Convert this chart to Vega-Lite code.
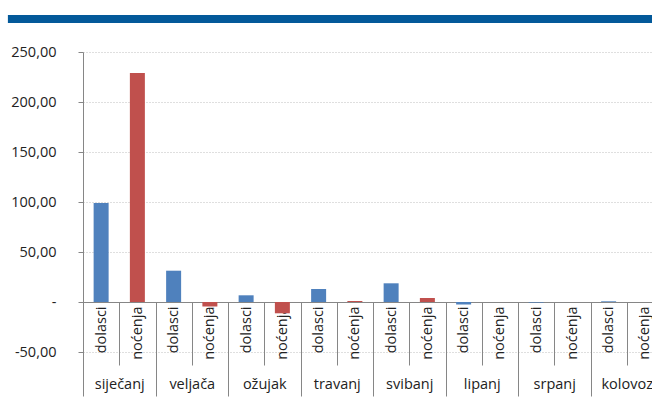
{
  "$schema": "https://vega.github.io/schema/vega-lite/v6.json",
  "autosize": "none",
  "width": 569,
  "height": 300,
  "padding": {"left": 83, "top": 52, "right": 0, "bottom": 65},
  "background": "white",
  "config": {
    "font": "Open Sans",
    "view": {"stroke": null},
    "locale": {"number": {"decimal": ",", "thousands": ".", "grouping": [3], "currency": ["", ""], "minus": "-"}},
    "axis": {"labelFont": "Open Sans", "labelFontSize": 14.5, "labelColor": "#222222"}
  },
  "data": {
    "values": [
      {"key": "siječanj-dolasci", "month": "siječanj", "type": "dolasci", "value": 99},
      {"key": "siječanj-noćenja", "month": "siječanj", "type": "noćenja", "value": 229},
      {"key": "veljača-dolasci", "month": "veljača", "type": "dolasci", "value": 31.3},
      {"key": "veljača-noćenja", "month": "veljača", "type": "noćenja", "value": -4.5},
      {"key": "ožujak-dolasci", "month": "ožujak", "type": "dolasci", "value": 6.7},
      {"key": "ožujak-noćenja", "month": "ožujak", "type": "noćenja", "value": -11.3},
      {"key": "travanj-dolasci", "month": "travanj", "type": "dolasci", "value": 13},
      {"key": "travanj-noćenja", "month": "travanj", "type": "noćenja", "value": 1},
      {"key": "svibanj-dolasci", "month": "svibanj", "type": "dolasci", "value": 18.7},
      {"key": "svibanj-noćenja", "month": "svibanj", "type": "noćenja", "value": 4},
      {"key": "lipanj-dolasci", "month": "lipanj", "type": "dolasci", "value": -2.5},
      {"key": "lipanj-noćenja", "month": "lipanj", "type": "noćenja", "value": 0},
      {"key": "srpanj-dolasci", "month": "srpanj", "type": "dolasci", "value": -0.6},
      {"key": "srpanj-noćenja", "month": "srpanj", "type": "noćenja", "value": 0},
      {"key": "kolovoz-dolasci", "month": "kolovoz", "type": "dolasci", "value": 0.7},
      {"key": "kolovoz-noćenja", "month": "kolovoz", "type": "noćenja", "value": 0}
    ]
  },
  "layer": [
    {
      "mark": {"type": "bar", "size": 15},
      "encoding": {
        "x": {
          "field": "key", "type": "nominal", "sort": null,
          "scale": {"range": [0, 580], "paddingInner": 0, "paddingOuter": 0},
          "axis": {
            "orient": "bottom", "title": null, "offset": -50, "grid": false,
            "domainColor": "#868686", "tickColor": "#868686", "tickSize": 63,
            "tickBand": "extent", "labelAngle": 270, "labelAlign": "right",
            "labelBaseline": "middle", "labelPadding": -59,
            "labelExpr": "split('' + datum.value, '-')[1]"
          }
        },
        "y": {
          "field": "value", "type": "quantitative",
          "scale": {"domain": [-50, 250], "nice": false},
          "axis": {
            "title": null, "values": [-50, 0, 50, 100, 150, 200, 250], "format": ".2f",
            "grid": true, "gridColor": "#bfbfbf", "gridDash": [1, 2],
            "domainColor": "#868686", "tickColor": "#868686", "tickSize": 5,
            "labelPadding": 22,
            "labelExpr": "datum.value == 0 ? '-\u00a0\u00a0' : datum.label"
          }
        },
        "color": {
          "field": "type", "type": "nominal",
          "scale": {"domain": ["dolasci", "noćenja"], "range": ["#4F81BD", "#C0504D"]},
          "legend": null
        }
      }
    },
    {
      "mark": {"type": "point", "opacity": 0},
      "encoding": {
        "x": {
          "field": "key", "type": "nominal", "sort": null,
          "scale": {"range": [0, 580], "paddingInner": 0, "paddingOuter": 0},
          "axis": {
            "orient": "bottom", "title": null, "offset": -50, "grid": false, "domain": false,
            "tickColor": "#868686", "tickSize": 94, "tickBand": "extent",
            "tickOpacity": {"condition": {"test": "indexof('' + datum.value, 'dolasci') < 0 || datum.extra", "value": 1}, "value": 0},
            "labelAngle": 0, "labelAlign": "center", "labelBaseline": "top",
            "labelPadding": -19, "labelOffset": 18.125,
            "labelExpr": "indexof('' + datum.value, 'dolasci') >= 0 ? split('' + datum.value, '-')[0] : ''"
          }
        },
        "y": {
          "field": "value", "type": "quantitative",
          "scale": {"domain": [-50, 250], "nice": false},
          "axis": {
            "title": null, "values": [-50, 0, 50, 100, 150, 200, 250], "format": ".2f",
            "grid": true, "gridColor": "#bfbfbf", "gridDash": [1, 2],
            "domainColor": "#868686", "tickColor": "#868686", "tickSize": 5,
            "labelPadding": 22,
            "labelExpr": "datum.value == 0 ? '-\u00a0\u00a0' : datum.label"
          }
        }
      }
    },
    {
      "data": {"values": [{"band": "header"}]},
      "mark": {"type": "rect", "color": "#03599A", "clip": false},
      "encoding": {
        "x": {"datum": -0.132, "type": "quantitative", "scale": {"domain": [0, 1], "nice": false, "zero": false}, "axis": null},
        "x2": {"datum": 1.2},
        "y": {
          "datum": 287, "type": "quantitative",
          "scale": {"domain": [-50, 250], "nice": false},
          "axis": {
            "title": null, "values": [-50, 0, 50, 100, 150, 200, 250], "format": ".2f",
            "grid": true, "gridColor": "#bfbfbf", "gridDash": [1, 2],
            "domainColor": "#868686", "tickColor": "#868686", "tickSize": 5,
            "labelPadding": 22,
            "labelExpr": "datum.value == 0 ? '-\u00a0\u00a0' : datum.label"
          }
        },
        "y2": {"datum": 279}
      }
    }
  ],
  "resolve": {"scale": {"x": "independent"}, "axis": {"x": "independent"}}
}
